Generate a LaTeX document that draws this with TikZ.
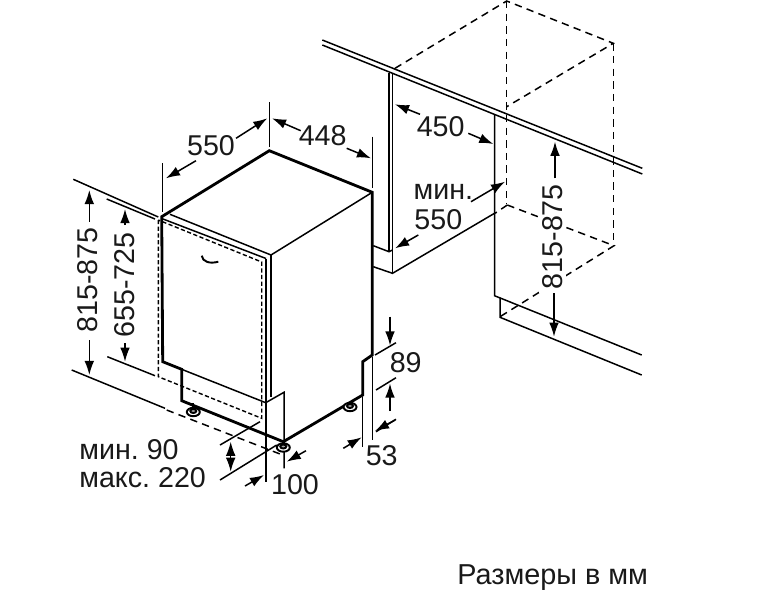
\documentclass[tikz,border=0pt]{standalone}
\usepackage{fontspec}
\setmainfont{Liberation Sans}
\usetikzlibrary{arrows.meta}
\tikzset{
  thinline/.style={black,line width=0.85pt},
  thickline/.style={black,line width=1.6pt,line join=miter},
  hidden/.style={black,line width=0.85pt,dash pattern=on 4.2pt off 3pt},
  doorhidden/.style={black,line width=0.8pt,dash pattern=on 2.4pt off 1.4pt},
  dimarrow/.style={black,line width=0.85pt,-{Latex[length=8pt,width=5.5pt]}},
  dimboth/.style={black,line width=0.85pt,{Latex[length=8pt,width=5.5pt]}-{Latex[length=8pt,width=5.5pt]}},
  dimtext/.style={inner sep=0pt,font=\fontsize{16.3}{20}\selectfont\frenchspacing,text=black!90},
  footpad/.style={black,line width=1.1pt,fill=white}
}
\begin{document}
\begin{tikzpicture}[x=0.02cm,y=0.02cm]
\useasboundingbox (0,0) rectangle (763,-592);
% cabinet
\draw [thickline] (161.7,-216.7) -- (269.3,-150.7) -- (372.3,-192.3) -- (372.3,-355) -- (362.7,-361.7) -- (362.7,-395) -- (283.3,-441.7) -- (181.7,-400.7) -- (181.7,-369.3) -- (162.7,-361.7) -- cycle;
\draw [thinline] (170,-214.3) -- (271,-255) -- (372.3,-192.3);
\draw [thinline] (163,-219) -- (266,-258.5);
\draw [thinline] (181.7,-369.3) -- (265.7,-402.7) -- (284,-392.3) -- (284,-468.3);
\draw [thinline] (271,-255) -- (271,-396.7);
\draw [thinline] (266,-258.5) -- (266,-481.7);
% door outline
\draw [doorhidden] (158.3,-220) -- (158.3,-376.7) -- (261.7,-418.3) -- (261.7,-262) -- cycle;
\draw [thinline,line width=1.1pt] (201.7,-255.7) .. controls (202.5,-262) and (210,-264) .. (218.3,-261.7);
% feet
\draw [thickline,line width=1.1pt] (193.3,-403) -- (193.3,-410);
\draw [footpad] (193.3,-412) ellipse (6.5 and 4.2);
\draw [footpad,fill=black!35] (193.3,-411) ellipse (3 and 2);
\draw [footpad] (283.3,-447.5) ellipse (6.5 and 4.2);
\draw [footpad,fill=black!35] (283.3,-446.5) ellipse (3 and 2);
\draw [footpad] (350,-407) ellipse (6.5 and 4.2);
\draw [footpad,fill=black!35] (350,-406) ellipse (3 and 2);
% left extension lines
\draw [thinline] (73.3,-179.3) -- (158.3,-217);
\draw [thinline] (106.7,-199) -- (155,-219);
\draw [thinline] (107.3,-356.7) -- (155,-375.7);
\draw [thinline] (71.7,-370) -- (165,-408.3);
\draw [hidden] (166.7,-410) -- (280,-454);
\draw [thinline] (162.7,-163.3) -- (162.7,-211.7);
\draw [thinline] (269.3,-102.3) -- (269.3,-146.7);
\draw [thinline] (372.3,-136.7) -- (372.3,-188.3);
% height arrows left
\draw [dimarrow] (89.3,-221.7) -- (89.3,-190);
\draw [dimarrow] (89.3,-340) -- (89.3,-375);
\draw [dimarrow] (125,-225) -- (125,-209);
\draw [dimarrow] (125,-343.3) -- (125,-361.7);
\node [dimtext,rotate=90] (hgtoutertext) at (87.3,-280) {815-875};
\node [dimtext,rotate=90] (hgtinnertext) at (125,-285) {655-725};
% top arrows
\draw [dimarrow] (196,-160.7) -- (166,-178.3);
\draw [dimarrow] (236,-138.3) -- (267.3,-118.3);
\draw [dimarrow] (300.7,-130.7) -- (272,-118.3);
\draw [dimarrow] (346.7,-148.3) -- (371,-158.3);
\node [dimtext] (depthtext) at (211,-145.7) {550};
\node [dimtext] (widthtext) at (322.7,-136) {448};
% plinth dims
\draw [thinline] (375,-355) -- (396,-342.7);
\draw [thinline] (376,-390) -- (396,-377.7);
\draw [thinline] (376,-431.7) -- (396,-419.3);
\draw [thinline] (372.7,-357) -- (372.7,-440);
\draw [thinline] (362.7,-397) -- (362.7,-446.7);
\draw [dimarrow] (390,-316.7) -- (390,-345.5);
\draw [dimarrow] (390,-411) -- (390,-383.5);
\draw [dimarrow] (343.3,-448.3) -- (361.7,-437.3);
\draw [dimarrow] (395,-420) -- (375,-431);
\node [dimtext] (plinthtext) at (405.7,-363) {89};
\node [dimtext] (foottext) at (381.7,-456) {53};
% front foot dims
\draw [thinline] (220,-445) -- (260,-421.7);
\draw [thinline] (220,-480) -- (276.7,-445);
\draw [dimboth] (230.7,-441.7) -- (230.7,-471.7);
\draw [dimarrow] (245,-486) -- (264,-475);
\draw [dimarrow] (306,-450.7) -- (286.7,-461.7);
\node [dimtext] (hundredtext) at (295,-485) {100};
\node [dimtext,anchor=west] (mintext) at (79,-450) {мин. 90};
\node [dimtext,anchor=west] (maxtext) at (79,-478) {макс. 220};
% niche worktop
\draw [thinline] (322.3,-40) -- (642.3,-168.3);
\draw [thinline] (322.3,-45) -- (642.3,-174);
\draw [thinline] (389,-72.7) -- (389,-251.7);
\draw [thinline] (392.5,-74) -- (392.5,-273.3);
\draw [thinline] (373.3,-245.7) -- (389,-251.7) -- (392.5,-250);
\draw [thinline] (373.3,-266.7) -- (392.5,-273.3) -- (494.5,-213.3);
\draw [thinline] (494.5,-115) -- (494.5,-295.7) -- (641.7,-355);
\draw [thinline] (500,-297.5) -- (500,-317.3) -- (641.7,-375);
% niche dashed box
\draw [hidden] (395,-68.3) -- (506.7,-1) -- (613.3,-43.3) -- (506.7,-106.7);
\draw [hidden] (506.7,-1) -- (506.7,-204);
\draw [hidden] (613.7,-43.3) -- (613.7,-245.7);
\draw [hidden] (507.3,-205) -- (614,-245.7) -- (500,-316.7);
\draw [hidden] (507.3,-205) -- (495,-213.3);
% niche arrows
\draw [dimarrow] (420,-114.3) -- (395,-104.3);
\draw [dimarrow] (468.3,-133.3) -- (493.3,-144);
\draw [dimarrow] (471,-201.7) -- (505,-181.7);
\draw [dimarrow] (418.3,-235) -- (395,-248.3);
\draw [dimarrow] (555,-178.3) -- (555,-141.7);
\draw [dimarrow] (554,-293.3) -- (554,-336.7);
\node [dimtext] (nichewidthtext) at (440.7,-126.7) {450};
\node [dimtext] (nicheminlabel) at (443.3,-191.7) {мин.};
\node [dimtext] (nichedepthtext) at (438.3,-219.3) {550};
\node [dimtext,rotate=90,fill=white,inner sep=2pt] (nicheheighttext) at (552.7,-236.7) {815-875};
\node [dimtext,anchor=west,font=\fontsize{16.4}{20}\selectfont] (unitstext) at (457,-578) {Размеры в мм};
\end{tikzpicture}
\end{document}
